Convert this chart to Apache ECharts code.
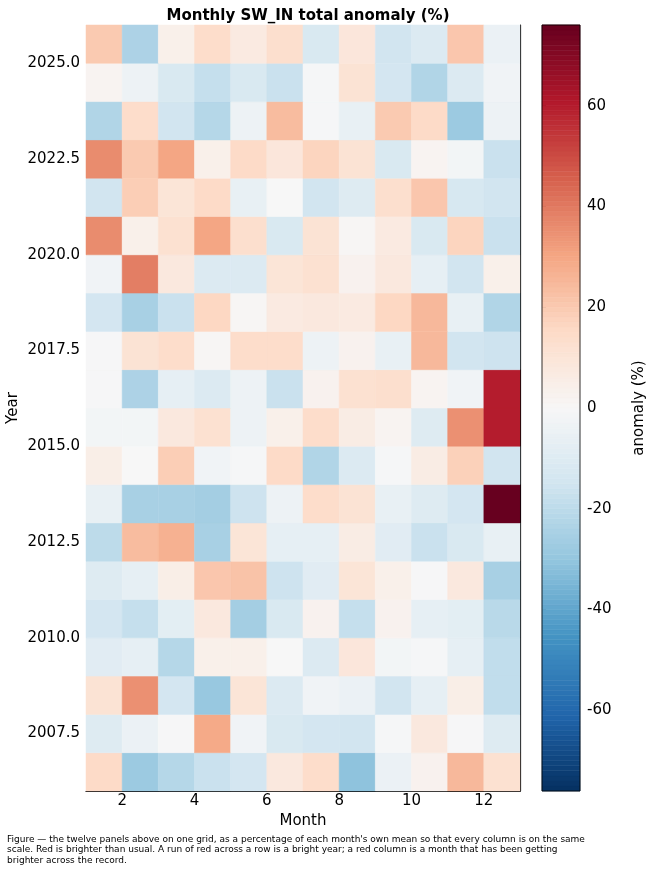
<!DOCTYPE html>
<html>
<head>
<meta charset="utf-8">
<script src="https://cdn.jsdelivr.net/npm/echarts@6/dist/echarts.min.js"></script>
<style>
  html, body { margin: 0; padding: 0; background: #fff; }
  #chart { width: 655px; height: 872px; }
</style>
</head>
<body>
<div id="chart"></div>
<script>
// 월 / 연도 축
var months = [1, 2, 3, 4, 5, 6, 7, 8, 9, 10, 11, 12];
var years = [2006, 2007, 2008, 2009, 2010, 2011, 2012, 2013, 2014, 2015,
             2016, 2017, 2018, 2019, 2020, 2021, 2022, 2023, 2024, 2025];

// 연도별 월 편차 (%) - years 순서와 같음
var anomaly = [
  [15, -28, -22, -17, -14, 8, 14, -31, -5, 3, 25, 12],      // 2006
  [-10, -5, -0.5, 29, -3, -12, -14, -15, -1, 8, -0.5, -10], // 2007
  [11, 35, -14, -29, 10, -11, -3, -5, -15, -7, 5, -19],     // 2008
  [-9, -7, -22, 4, 4, 0, -11, 9, -2, -1, -7, -19],          // 2009
  [-14, -18, -8, 8, -26, -12, 3, -18, 3, -7, -8, -21],      // 2010
  [-10, -7, 5, 21, 22, -16, -9, 10, 4, -0.5, 8, -25],       // 2011
  [-20, 24, 27, -25, 10, -7, -7, 6, -9, -17, -12, -6],      // 2012
  [-6, -25, -25, -26, -16, -4, 14, 11, -6, -10, -14, 76],   // 2013
  [5, 0, 19, -3, -1, 15, -23, -11, -1, 6, 18, -15],         // 2014
  [-2, -2, 8, 12, -4, 4, 14, 6, 2, -10, 35, 60],            // 2015
  [-0.5, -24, -7, -11, -4, -17, 3, 12, 13, 2, -3, 60],      // 2016
  [-0.5, 11, 14, 1, 14, 14, -4, 3, -6, 25, -15, -16],       // 2017
  [-14, -25, -17, 16, 1, 7, 8, 7, 16, 25, -6, -23],         // 2018
  [-3, 39, 8, -11, -11, 10, 12, 3, 8, -7, -15, 4],          // 2019
  [36, 4, 12, 30, 13, -12, 11, 1, 7, -12, 17, -17],         // 2020
  [-15, 19, 10, 15, -6, 0, -15, -10, 13, 21, -13, -15],     // 2021
  [36, 20, 30, 4, 15, 9, 17, 11, -12, 2, -2, -17],          // 2022
  [-23, 14, -15, -22, -4, 24, -1, -6, 20, 15, -28, -4],     // 2023
  [2, -4, -12, -18, -12, -17, -1, 11, -14, -23, -11, -3],   // 2024
  [20, -24, 4, 14, 7, 13, -12, 9, -15, -11, 21, -5]         // 2025
];

// 눈금
var monthTicks = [2, 4, 6, 8, 10, 12];
var yearTicks = [2007.5, 2010, 2012.5, 2015, 2017.5, 2020, 2022.5, 2025];
var cbarTicks = [-60, -40, -20, 0, 20, 40, 60];
var vmin = -76, vmax = 76;

// RdBu_r 컬러맵
var rdbuR = ['#053061', '#2166ac', '#4393c3', '#92c5de', '#d1e5f0', '#f7f7f7',
             '#fddbc7', '#f4a582', '#d6604d', '#b2182b', '#67001f'];

function hexToRgb(h) {
  return [parseInt(h.substr(1, 2), 16), parseInt(h.substr(3, 2), 16), parseInt(h.substr(5, 2), 16)];
}
function colorFor(v) {
  var t = (v - vmin) / (vmax - vmin);
  t = Math.max(0, Math.min(1, t));
  var pos = t * (rdbuR.length - 1);
  var i = Math.min(Math.floor(pos), rdbuR.length - 2);
  var f = pos - i;
  var a = hexToRgb(rdbuR[i]), b = hexToRgb(rdbuR[i + 1]);
  var c = [0, 1, 2].map(function (k) { return Math.round(a[k] + (b[k] - a[k]) * f); });
  return 'rgb(' + c.join(',') + ')';
}

// 히트맵 데이터 [월, 연도, 값]
var cells = [];
for (var r = 0; r < years.length; r++) {
  for (var c = 0; c < months.length; c++) {
    cells.push([months[c], years[r], anomaly[r][c]]);
  }
}

// 컬러바 밴드
var cbarBands = [];
for (var v = vmin; v < vmax; v += 1) {
  cbarBands.push([v, Math.min(v + 1, vmax)]);
}

var FONT = 'DejaVu Sans';
var chart = echarts.init(document.getElementById('chart'));

var option = {
  animation: false,
  backgroundColor: '#fff',
  title: {
    text: 'Monthly SW_IN total anomaly (%)',
    left: 303,
    top: 4,
    textAlign: 'center',
    textStyle: { fontFamily: FONT, fontSize: 15, fontWeight: 'bold', color: '#000' }
  },
  grid: [
    { left: 86, top: 25, width: 434, height: 766, outerBoundsMode: 'none' },
    { left: 542, top: 25, width: 38, height: 766, outerBoundsMode: 'none', show: true, borderColor: '#000', borderWidth: 0.8, backgroundColor: 'transparent', z: 5 }
  ],
  xAxis: [
    {
      type: 'value', gridIndex: 0, min: 1, max: 13,
      name: 'Month', nameLocation: 'middle', nameGap: 22,
      nameTextStyle: { fontFamily: FONT, fontSize: 15, color: '#000' },
      axisLine: { show: true, onZero: false, lineStyle: { color: '#000', width: 1.2 } },
      axisTick: { show: false },
      axisLabel: { customValues: monthTicks, fontFamily: FONT, fontSize: 15, color: '#000', margin: 3 },
      splitLine: { show: false }
    },
    { type: 'value', gridIndex: 1, min: 0, max: 1, show: false }
  ],
  yAxis: [
    {
      type: 'value', gridIndex: 0, min: 2006, max: 2026,
      name: 'Year', nameLocation: 'middle', nameGap: 65, nameRotate: 90,
      nameMoveOverlap: false,
      nameTextStyle: { fontFamily: FONT, fontSize: 15, color: '#000' },
      axisLine: { show: false },
      axisTick: { show: false },
      axisLabel: {
        customValues: yearTicks, fontFamily: FONT, fontSize: 15, color: '#000', margin: 6,
        formatter: function (v) { return v.toFixed(1); }
      },
      splitLine: { show: false }
    },
    {
      type: 'value', gridIndex: 0, min: 2006, max: 2026, position: 'right',
      axisLine: { show: true, onZero: false, lineStyle: { color: '#000', width: 1.2 } },
      axisTick: { show: false }, axisLabel: { show: false }, splitLine: { show: false }
    },
    {
      type: 'value', gridIndex: 1, min: vmin, max: vmax, position: 'right',
      name: 'anomaly (%)', nameLocation: 'middle', nameGap: 52, nameRotate: 90,
      nameTextStyle: { fontFamily: FONT, fontSize: 15, color: '#000' },
      axisLine: { show: false },
      axisTick: { show: true, customValues: cbarTicks, length: 4, lineStyle: { color: '#000', width: 0.8 } },
      axisLabel: { customValues: cbarTicks, fontFamily: FONT, fontSize: 15, color: '#000', margin: 7 },
      splitLine: { show: false }
    }
  ],
  series: [
    {
      type: 'custom',
      xAxisIndex: 0, yAxisIndex: 0,
      data: cells,
      renderItem: function (params, api) {
        var m = api.value(0), y = api.value(1), val = api.value(2);
        var p0 = api.coord([m, y + 1]);
        var p1 = api.coord([m + 1, y]);
        var col = colorFor(val);
        return {
          type: 'rect',
          shape: { x: p0[0], y: p0[1], width: p1[0] - p0[0], height: p1[1] - p0[1] },
          style: { fill: col, stroke: col, lineWidth: 0.5 }
        };
      }
    },
    {
      type: 'custom',
      xAxisIndex: 1, yAxisIndex: 2,
      data: cbarBands,
      silent: true,
      renderItem: function (params, api) {
        var lo = api.value(0), hi = api.value(1);
        var p0 = api.coord([0, hi]);
        var p1 = api.coord([1, lo]);
        var col = colorFor((lo + hi) / 2);
        return {
          type: 'rect',
          shape: { x: p0[0], y: p0[1], width: p1[0] - p0[0], height: p1[1] - p0[1] },
          style: { fill: col, stroke: col, lineWidth: 0.6 }
        };
      }
    }
  ],
  graphic: [
    {
      type: 'text', left: 7, top: 834,
      style: {
        text: "Figure \u2014 the twelve panels above on one grid, as a percentage of each month's own mean so that every column is on the same\n" +
              "scale. Red is brighter than usual. A run of red across a row is a bright year; a red column is a month that has been getting\n" +
              "brighter across the record.",
        font: '9px DejaVu Sans', fill: '#000', lineHeight: 10.5
      }
    }
  ]
};

chart.setOption(option);
</script>
</body>
</html>
